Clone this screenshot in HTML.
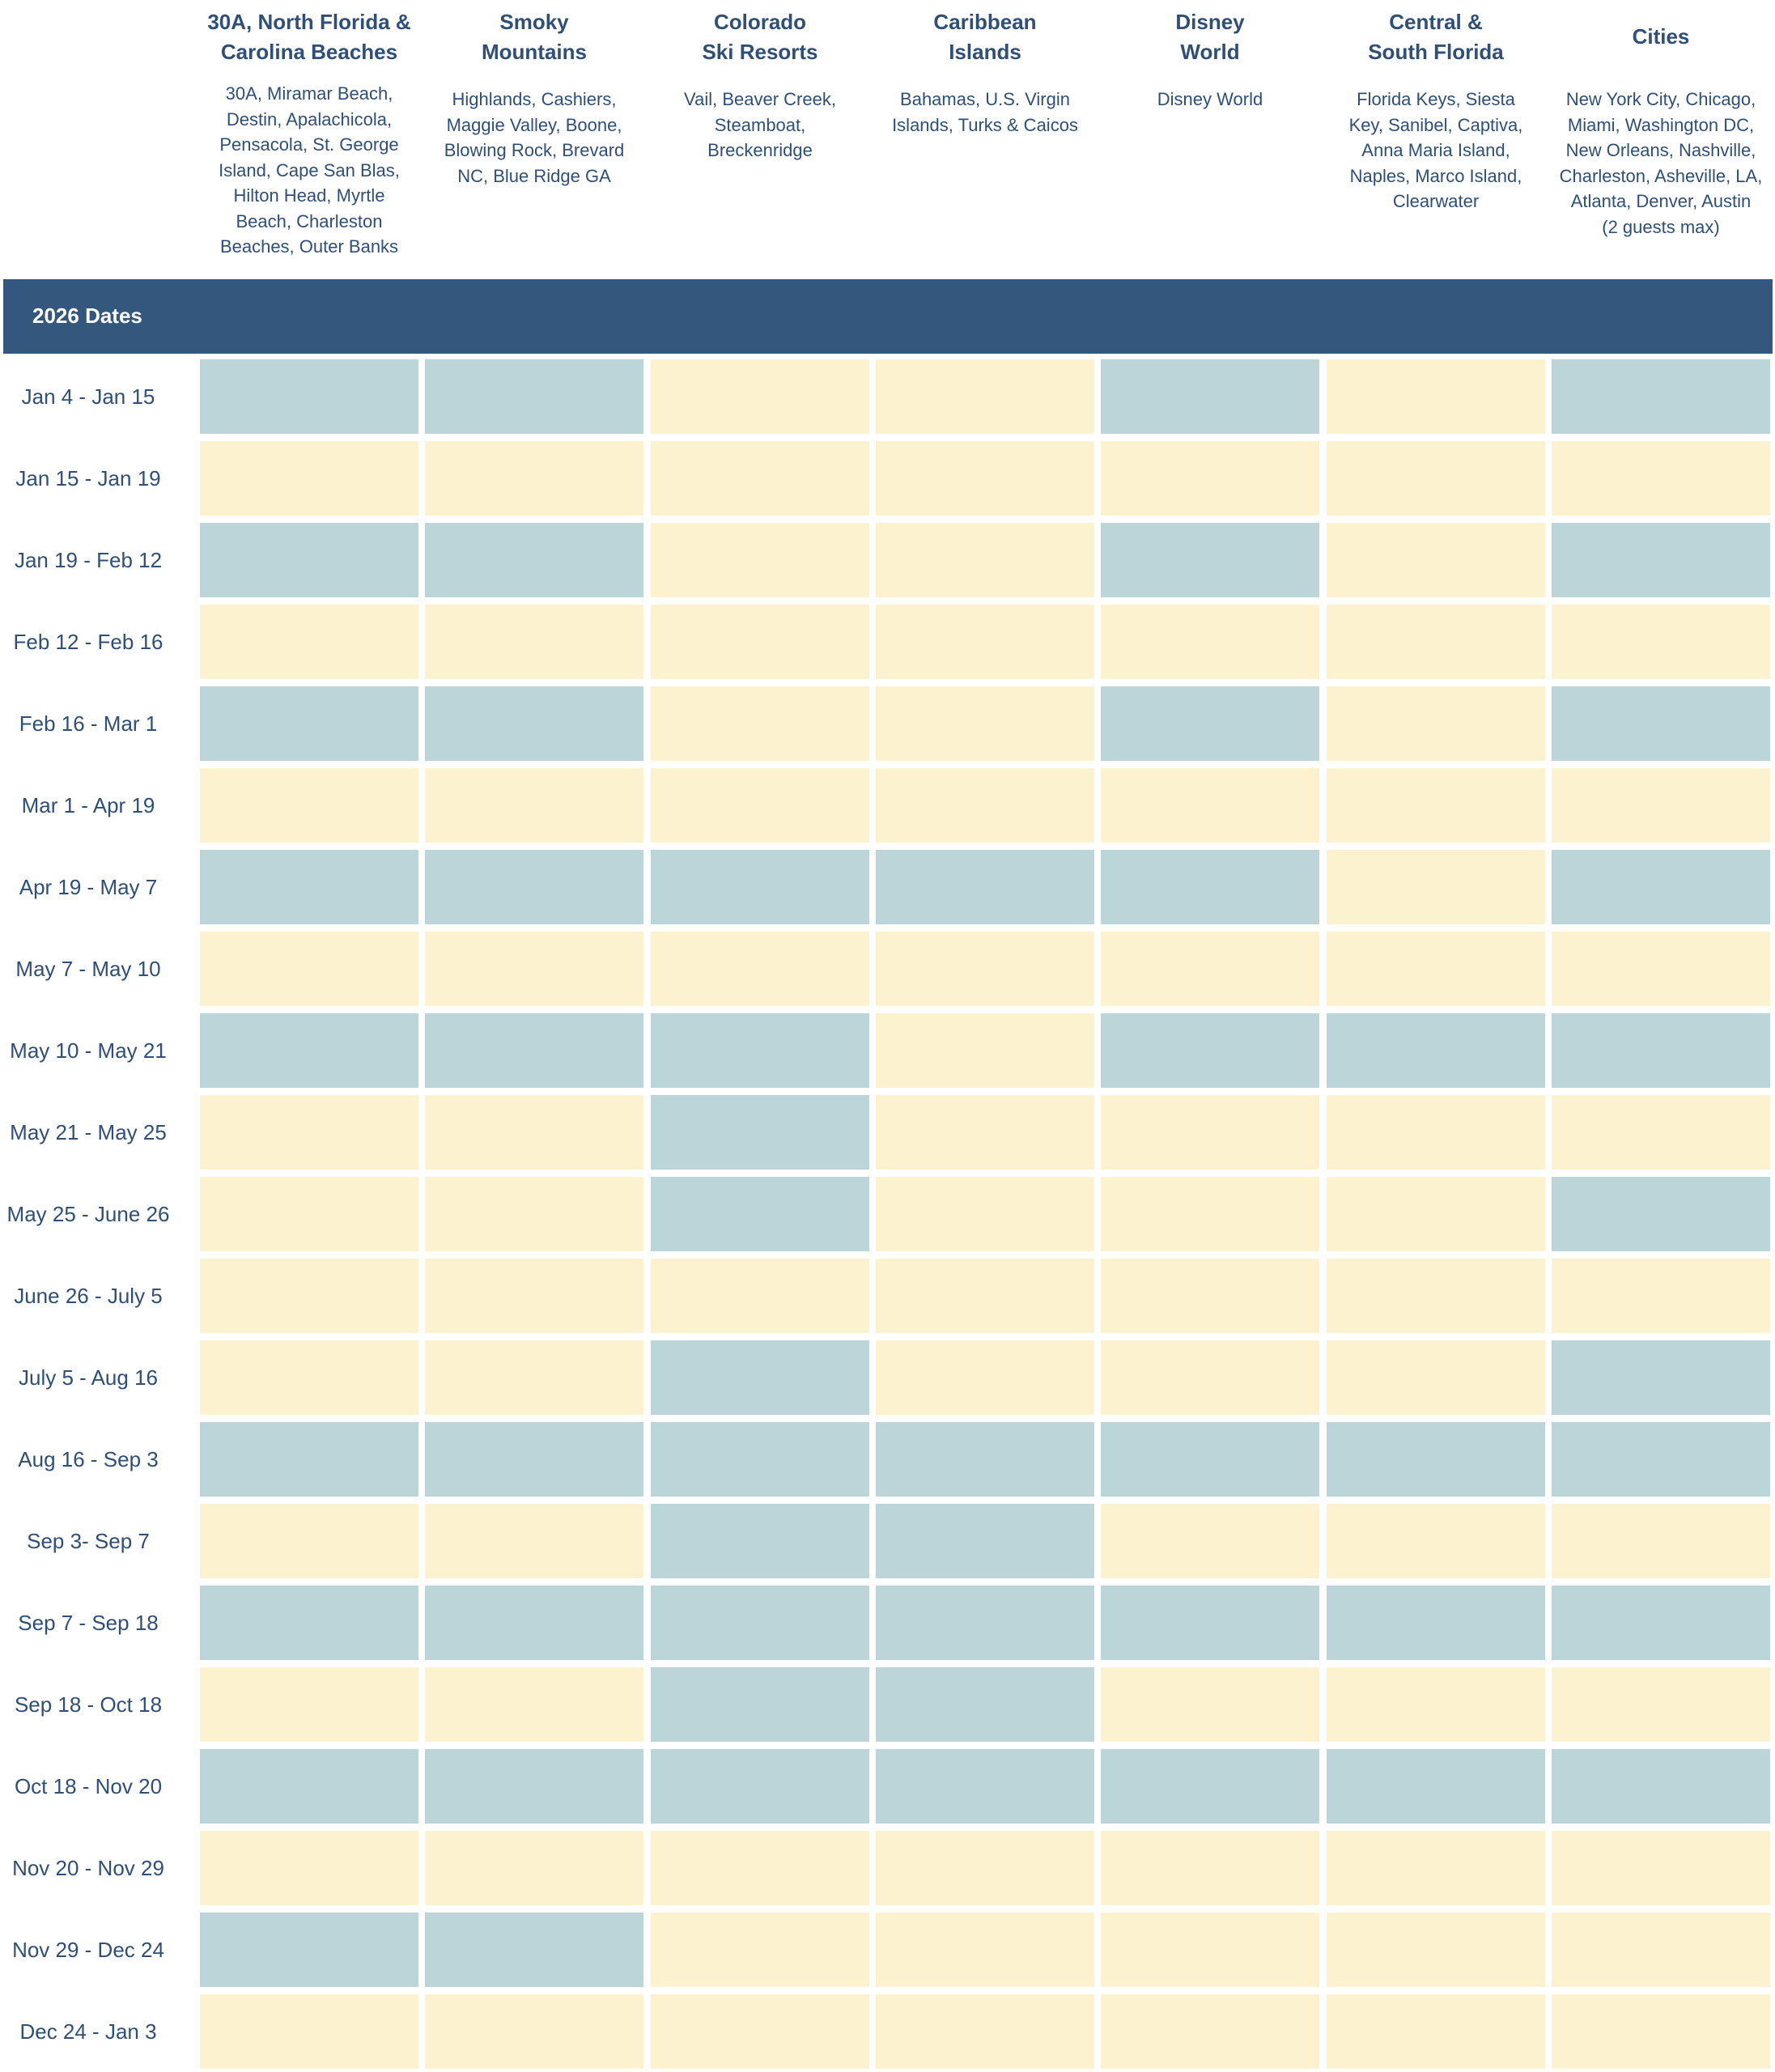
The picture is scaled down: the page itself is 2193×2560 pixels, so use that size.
<!DOCTYPE html>
<html><head><meta charset="utf-8"><style>
body{margin:0;width:2193px;height:2560px;background:#fff;position:relative;overflow:hidden;font-family:"Liberation Sans",sans-serif;color:#2f4f78}
.h{position:absolute;width:278px;text-align:center}
.t{font-weight:bold;font-size:26px;line-height:37px;position:absolute;top:9px;width:100%}
.d{font-size:22px;line-height:31.5px;position:absolute;width:100%}
.bar{position:absolute;left:4px;top:345px;width:2186px;height:92px;background:#34587d}
.bar span{position:absolute;left:36px;top:30px;color:#fff;font-weight:bold;font-size:26px}
.c{position:absolute;width:270px;height:92px}
.B{background:#bcd5d9}.Y{background:#fdf2d0}
.lab{position:absolute;left:0;width:218px;text-align:center;font-size:26px;height:92px;line-height:92px}
</style></head><body>
<div class="h" style="left:243px"><div class="t">30A, North Florida &amp;<br>Carolina Beaches</div><div class="d" style="top:100px">30A, Miramar Beach,<br>Destin, Apalachicola,<br>Pensacola, St. George<br>Island, Cape San Blas,<br>Hilton Head, Myrtle<br>Beach, Charleston<br>Beaches, Outer Banks</div></div>
<div class="h" style="left:521px"><div class="t">Smoky<br>Mountains</div><div class="d" style="top:107px">Highlands, Cashiers,<br>Maggie Valley, Boone,<br>Blowing Rock, Brevard<br>NC, Blue Ridge GA</div></div>
<div class="h" style="left:800px"><div class="t">Colorado<br>Ski Resorts</div><div class="d" style="top:107px">Vail, Beaver Creek,<br>Steamboat,<br>Breckenridge</div></div>
<div class="h" style="left:1078px"><div class="t">Caribbean<br>Islands</div><div class="d" style="top:107px">Bahamas, U.S. Virgin<br>Islands, Turks &amp; Caicos</div></div>
<div class="h" style="left:1356px"><div class="t">Disney<br>World</div><div class="d" style="top:107px">Disney World</div></div>
<div class="h" style="left:1635px"><div class="t">Central &amp;<br>South Florida</div><div class="d" style="top:107px">Florida Keys, Siesta<br>Key, Sanibel, Captiva,<br>Anna Maria Island,<br>Naples, Marco Island,<br>Clearwater</div></div>
<div class="h" style="left:1913px"><div class="t" style="top:27px">Cities</div><div class="d" style="top:107px">New York City, Chicago,<br>Miami, Washington DC,<br>New Orleans, Nashville,<br>Charleston, Asheville, LA,<br>Atlanta, Denver, Austin<br>(2 guests max)</div></div>
<div class="bar"><span>2026 Dates</span></div>
<div class="lab" style="top:444px">Jan 4 - Jan 15</div>
<div class="lab" style="top:545px">Jan 15 - Jan 19</div>
<div class="lab" style="top:646px">Jan 19 - Feb 12</div>
<div class="lab" style="top:747px">Feb 12 - Feb 16</div>
<div class="lab" style="top:848px">Feb 16 - Mar 1</div>
<div class="lab" style="top:949px">Mar 1 - Apr 19</div>
<div class="lab" style="top:1050px">Apr 19 - May 7</div>
<div class="lab" style="top:1151px">May 7 - May 10</div>
<div class="lab" style="top:1252px">May 10 - May 21</div>
<div class="lab" style="top:1353px">May 21 - May 25</div>
<div class="lab" style="top:1454px">May 25 - June 26</div>
<div class="lab" style="top:1555px">June 26 - July 5</div>
<div class="lab" style="top:1656px">July 5 - Aug 16</div>
<div class="lab" style="top:1757px">Aug 16 - Sep 3</div>
<div class="lab" style="top:1858px">Sep 3- Sep 7</div>
<div class="lab" style="top:1959px">Sep 7 - Sep 18</div>
<div class="lab" style="top:2060px">Sep 18 - Oct 18</div>
<div class="lab" style="top:2161px">Oct 18 - Nov 20</div>
<div class="lab" style="top:2262px">Nov 20 - Nov 29</div>
<div class="lab" style="top:2363px">Nov 29 - Dec 24</div>
<div class="lab" style="top:2464px">Dec 24 - Jan 3</div>
<script>
var rows=["BBYYBYB","YYYYYYY","BBYYBYB","YYYYYYY","BBYYBYB","YYYYYYY","BBBBBYB","YYYYYYY","BBBYBBB","YYBYYYY","YYBYYYB","YYYYYYY","YYBYYYB","BBBBBBB","YYBBYYY","BBBBBBB","YYBBYYY","BBBBBBB","YYYYYYY","BBYYYYY","YYYYYYY"];
var xs=[247,525,804,1082,1360,1639,1917],h="";
rows.forEach(function(r,i){for(var j=0;j<7;j++)h+='<div class="c '+r[j]+'" style="left:'+xs[j]+'px;top:'+(444+101*i)+'px"></div>';});
document.body.insertAdjacentHTML("beforeend",h);
</script>
</body></html>
